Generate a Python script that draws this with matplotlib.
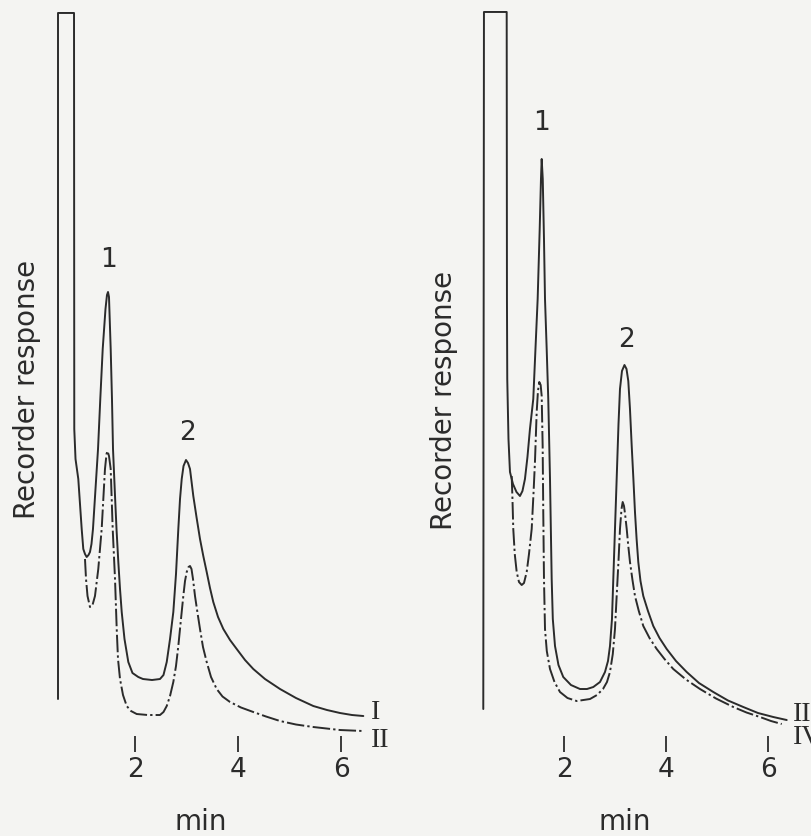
import matplotlib
matplotlib.use("Agg")
import matplotlib.pyplot as plot

# chromatogram traces: time in min, recorder response in chart units (0-731)
time_I = [0.505, 0.505, 0.816, 0.821, 0.845, 0.899, 0.965, 0.996, 1.029, 1.062, 1.097, 1.126, 1.155,
          1.184, 1.233, 1.282, 1.326, 1.373, 1.427, 1.456, 1.476, 1.495, 1.528, 1.553, 1.573, 1.612,
          1.641, 1.676, 1.709, 1.742, 1.796, 1.870, 1.951, 2.064, 2.155, 2.330, 2.485, 2.553, 2.616,
          2.680, 2.744, 2.796, 2.841, 2.874, 2.907, 2.942, 2.990, 3.029, 3.068, 3.132, 3.194, 3.262,
          3.326, 3.392, 3.456, 3.520, 3.612, 3.715, 3.845, 3.975, 4.136, 4.297, 4.524, 4.816, 5.126,
          5.462, 5.728, 5.981, 6.214, 6.433]
resp_I = [45, 731, 731, 315, 285, 265, 215, 195, 190, 187, 189, 192, 200,
          215, 255, 295, 345, 395, 435, 449, 452, 447, 395, 345, 295, 248,
          215, 182, 155, 132, 105, 82, 71, 67, 65, 64, 65, 69, 82,
          105, 132, 170, 215, 245, 265, 278, 284, 281, 275, 248, 227, 205,
          188, 172, 156, 142, 127, 115, 104, 95, 84, 75, 65, 55, 46,
          38, 34, 31, 29, 28]

time_II = [1.029, 1.049, 1.078, 1.126, 1.175, 1.223, 1.287, 1.353, 1.417, 1.447, 1.466, 1.495, 1.528,
           1.567, 1.612, 1.645, 1.670, 1.709, 1.767, 1.839, 1.922, 2.033, 2.252, 2.485, 2.553, 2.616,
           2.680, 2.744, 2.796, 2.841, 2.893, 2.938, 2.971, 3.004, 3.039, 3.068, 3.097, 3.126, 3.165,
           3.214, 3.262, 3.320, 3.392, 3.476, 3.586, 3.699, 3.845, 4.058, 4.297, 4.544, 4.816, 5.126,
           5.462, 5.981, 6.433]
resp_II = [185, 165, 148, 137, 139, 148, 175, 215, 275, 290, 293, 288, 275,
           215, 165, 115, 85, 65, 49, 38, 33, 30, 29, 29, 32, 38,
           48, 62, 78, 98, 125, 148, 163, 172, 177, 178, 175, 165, 148,
           131, 115, 97, 82, 67, 55, 47.5, 42, 36.5, 32, 27.5, 23, 19.5,
           17, 14, 13]

time_III = [0.412, 0.425, 0.871, 0.876, 0.882, 0.906, 0.935, 0.994, 1.063, 1.131, 1.180, 1.229, 1.278,
            1.327, 1.392, 1.435, 1.478, 1.518, 1.543, 1.557, 1.578, 1.602, 1.622, 1.655, 1.686, 1.720,
            1.753, 1.775, 1.818, 1.886, 1.980, 2.131, 2.308, 2.445, 2.569, 2.700, 2.798, 2.857, 2.896,
            2.935, 2.961, 2.994, 3.027, 3.063, 3.092, 3.131, 3.180, 3.220, 3.255, 3.288, 3.322, 3.355,
            3.386, 3.418, 3.451, 3.494, 3.549, 3.641, 3.745, 3.867, 4.008, 4.190, 4.400, 4.641, 4.922,
            5.210, 5.510, 5.798, 6.098, 6.361]
resp_III = [35, 732, 732, 445, 365, 305, 272, 260, 252, 248, 253, 265, 287,
            315, 345, 395, 445, 515, 565, 585, 565, 505, 445, 395, 345, 265,
            165, 125, 98, 79, 67, 59, 55, 55, 57, 62, 72, 83, 98,
            125, 165, 215, 265, 320, 355, 373, 379, 375, 363, 335, 298, 265,
            232, 205, 182, 163, 148, 133, 118, 106, 95, 83, 72, 61, 52,
            43.5, 37, 31, 27, 24]

time_IV = [0.969, 0.984, 1.000, 1.029, 1.067, 1.112, 1.165, 1.210, 1.263, 1.308, 1.361, 1.396, 1.425,
           1.459, 1.484, 1.510, 1.537, 1.557, 1.576, 1.588, 1.602, 1.622, 1.657, 1.720, 1.808, 1.916,
           2.063, 2.243, 2.504, 2.641, 2.759, 2.837, 2.896, 2.951, 2.994, 3.027, 3.063, 3.092, 3.122,
           3.145, 3.171, 3.196, 3.224, 3.255, 3.288, 3.337, 3.386, 3.461, 3.549, 3.671, 3.812, 3.965,
           4.137, 4.386, 4.661, 4.975, 5.314, 5.573, 5.837, 6.053, 6.263]
resp_IV = [268, 245, 215, 190, 172, 162, 159, 161, 172, 190, 215, 250, 282,
           332, 353, 362, 359, 348, 298, 232, 165, 115, 93, 75, 62, 52,
           46, 43, 45, 49, 55, 62, 72, 90, 115, 148, 183, 215, 235,
           242, 238, 228, 215, 198, 182, 164, 148, 133, 118, 106, 95, 85,
           75, 64.5, 55, 45.5, 37, 31.5, 27, 23, 20]

tick_values = [2, 4, 6]
tick_labels = ["2", "4", "6"]

# peak numbers: (label, time, response) for each panel
peaks_left = [("1", 1.476, 485), ("2", 3.01, 312)]
peaks_right = [("1", 1.557, 622), ("2", 3.224, 405)]

# trace names: (label, time, response)
names_left = [("I", 6.583, 33), ("II", 6.583, 5)]
names_right = [("III", 6.484, 31), ("IV", 6.484, 8)]

ink = "#2b2b2b"
paper = "#f4f4f2"
dash_dot = (0, (9, 1.6, 1.2, 1.6))

figure = plot.figure(figsize=(8.12, 8.37), dpi=100, facecolor=paper)

panels = [
    ([0.0394, 0.1099, 0.4440, 0.8734], (time_I, resp_I), (time_II, resp_II), peaks_left, names_left, (0.025, 0.486), 0.469),
    ([0.5693, 0.1099, 0.4397, 0.8734], (time_III, resp_III), (time_IV, resp_IV), peaks_right, names_right, (-0.012, 0.472), 0.456),
]

for rect, solid, dashed, peaks, names, label_xy, min_x in panels:
    axis = figure.add_axes(rect)
    axis.set_facecolor("none")

    axis.plot(solid[0], solid[1], color=ink, linewidth=1.4, clip_on=False,
              solid_joinstyle="round", solid_capstyle="round")
    axis.plot(dashed[0], dashed[1], color=ink, linewidth=1.4, linestyle=dash_dot,
              dash_joinstyle="round", clip_on=False)

    for text, t, r in peaks:
        axis.text(t, r, text, ha="center", va="center", fontsize=19, color=ink)
    for text, t, r in names:
        axis.text(t, r, text, ha="left", va="center", fontsize=20, color=ink,
                  family="Liberation Serif")

    axis.set_xlim(0, 7)
    axis.set_ylim(0, 731)
    for side in axis.spines.values():
        side.set_visible(False)
    axis.set_yticks([])
    axis.set_xticks(tick_values)
    axis.set_xticklabels(tick_labels)
    axis.tick_params(axis="x", direction="inout", length=11, width=1.3, color=ink,
                     labelsize=19, labelcolor=ink, pad=3)

    axis.set_ylabel("Recorder response", fontsize=20, color=ink)
    axis.yaxis.set_label_coords(*label_xy)
    axis.set_xlabel("min", fontsize=20, color=ink, va="center")
    axis.xaxis.set_label_coords(min_x, -0.105)

figure.savefig("out.png", dpi=100, facecolor=paper)
